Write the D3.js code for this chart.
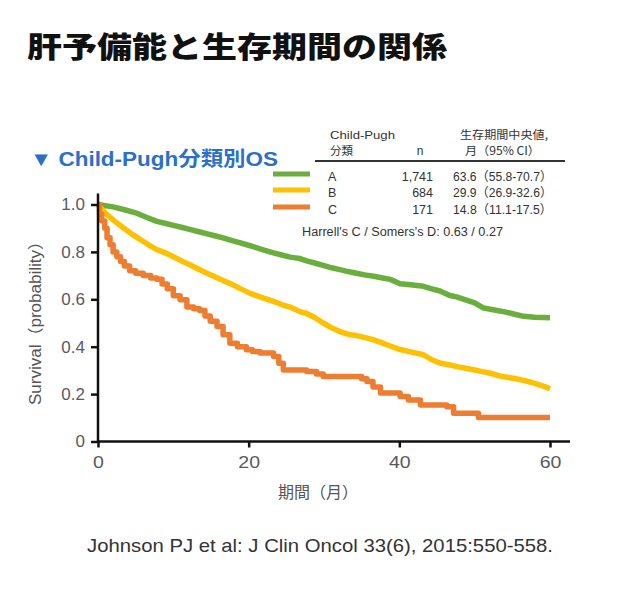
<!DOCTYPE html>
<html><head><meta charset="utf-8">
<script src="https://cdn.jsdelivr.net/npm/d3@7"></script>
<style>
body{margin:0;background:#fff;}
text{font-family:"Liberation Sans",Arial,"Noto Sans CJK JP",sans-serif;}
.jp{font-family:"Noto Sans CJK JP","Liberation Sans",sans-serif;}
</style></head>
<body>
<svg id="c" width="640" height="590"></svg>
<script>
// ---- data ----
const monthsA = [0,1,2,3.4,5,6.5,7.8,9,10,11.2,12.3,13.4,14.5,15.5,16.6,17.8,18.9,20.2,21.7,23.3,24.4,25.5,26.8,27.7,29,30,31,32.1,33.2,34.3,35.4,36.6,37.8,38.8,40.1,41.5,43.2,44.2,45.4,46.7,47.6,48.8,50,51.2,52.1,53,54,55.6,56.5,58,59,60];
const survA  = [1.0,0.995,0.99,0.979,0.965,0.945,0.929,0.92,0.912,0.903,0.894,0.885,0.876,0.868,0.859,0.848,0.838,0.826,0.811,0.796,0.787,0.778,0.772,0.762,0.751,0.742,0.733,0.725,0.717,0.71,0.703,0.697,0.69,0.684,0.666,0.661,0.655,0.645,0.635,0.616,0.61,0.598,0.585,0.563,0.558,0.553,0.547,0.535,0.528,0.524,0.523,0.522];
const monthsB = [0,0.5,1.15,2.2,3.4,4.5,5.6,6.7,7.8,9,10,11,12.2,13.3,14.4,15.5,16.6,17.8,18.9,20.2,21.5,23.3,24.4,25.5,26.8,27.7,28.8,29.9,31,32.1,33.5,34.3,35.5,36.6,37.8,38.8,40.1,41.5,43.2,44.3,45.4,46.7,47.6,48.8,50,51,52.1,53.4,54.5,55.5,56.5,57.5,58.5,59.3,60];
const survB  = [1.0,0.98,0.958,0.93,0.901,0.875,0.852,0.83,0.81,0.795,0.78,0.763,0.746,0.728,0.711,0.695,0.679,0.663,0.645,0.625,0.61,0.591,0.578,0.567,0.548,0.54,0.522,0.5,0.48,0.464,0.45,0.447,0.438,0.429,0.415,0.403,0.388,0.378,0.366,0.345,0.331,0.323,0.316,0.309,0.302,0.295,0.288,0.276,0.27,0.265,0.258,0.25,0.24,0.232,0.222];
const monthsC = [0,0.2,0.5,0.9,1.2,1.6,2,2.5,3,3.5,4.2,5,6,7,7.8,8.5,9.2,10,10.9,11.8,12.7,13.5,14.2,14.9,15.8,16.6,17.5,18.5,19.7,20.5,21.5,23.3,24,24.6,27.7,29,29.9,33.9,35,35.7,36.5,37.5,40.1,41.2,42.8,46.3,47.2,50.5,60];
const survC  = [1.0,0.96,0.93,0.9,0.86,0.83,0.8,0.78,0.76,0.74,0.72,0.71,0.7,0.69,0.685,0.665,0.645,0.615,0.598,0.567,0.56,0.553,0.53,0.507,0.485,0.45,0.415,0.4,0.387,0.38,0.373,0.359,0.33,0.302,0.295,0.285,0.274,0.274,0.265,0.253,0.23,0.205,0.19,0.175,0.154,0.147,0.119,0.101,0.101];

const groups  = ["A","B","C"];
const nCounts = ["1,741","684","171"];
const medians = ["63.6（55.8-70.7）","29.9（26.9-32.6）","14.8（11.1-17.5）"];
const colors  = ["#6aae3e","#ffc000","#ed7d31"];
const xTicks  = [0,20,40,60];
const yTicks  = [0,0.2,0.4,0.6,0.8,1.0];

const series = [
  {m:monthsA, s:survA, curve:d3.curveLinear},
  {m:monthsB, s:survB, curve:d3.curveLinear},
  {m:monthsC, s:survC, curve:d3.curveStepAfter}
];

// ---- chart ----
const svg = d3.select("#c");
const x = d3.scaleLinear().domain([0,60]).range([98,550]);
const y = d3.scaleLinear().domain([0,1]).range([441.5,204.5]);

function fit(sel,len){ return sel.attr("textLength",len).attr("lengthAdjust","spacingAndGlyphs"); }

// title
fit(svg.append("text").attr("class","jp").attr("x",27).attr("y",58)
  .attr("font-size",29).attr("font-weight",900).attr("fill","#111")
  .text("肝予備能と生存期間の関係"),420);

// subtitle
fit(svg.append("text").attr("x",30).attr("y",166).attr("font-size",20)
  .attr("font-weight","bold").attr("fill","#2a6fcb")
  .text("▼ Child-Pugh分類別OS"),248);

// curves
series.forEach((sr,i)=>{
  const line = d3.line().x(d=>x(d[0])).y(d=>y(d[1])).curve(sr.curve);
  const pts = sr.m.map((m,j)=>[m,sr.s[j]]);
  svg.append("path").attr("d",line(pts)).attr("fill","none")
    .attr("stroke",colors[i]).attr("stroke-width",5.5).attr("stroke-linejoin","round");
});

// axes
const gx = svg.append("g").attr("transform",`translate(0,${y(0)})`)
  .call(d3.axisBottom(x).tickValues(xTicks).tickSize(6).tickSizeOuter(0).tickFormat(d3.format("d")));
gx.select(".domain").attr("d",`M${x(0)},0H${x(60)+20}`);
const gy = svg.append("g").attr("transform",`translate(${x(0)},0)`)
  .call(d3.axisLeft(y).tickValues(yTicks).tickSize(7).tickSizeOuter(0)
    .tickFormat(d=>d===0?"0":d.toFixed(1)));
gy.select(".domain").attr("d",`M0,${y(0)}V${y(1)-11}`);
[gx,gy].forEach(g=>{
  g.select(".domain").attr("stroke","#111").attr("stroke-width",2.5);
  g.selectAll(".tick line").attr("stroke","#111").attr("stroke-width",2.5);
  g.selectAll(".tick text").attr("font-size",17).attr("fill","#5a5a5a")
    .attr("font-family","'Liberation Sans',Arial,sans-serif");
});
gx.selectAll(".tick text").attr("dy",null).attr("y",26.5).attr("transform","scale(1.15,1)");
gy.selectAll(".tick text").attr("x",-13);

// axis titles
svg.append("text").attr("class","jp").attr("x",318).attr("y",498).attr("text-anchor","middle")
  .attr("font-size",16).attr("fill","#555").text("期間（月）");
fit(svg.append("text").attr("transform","translate(41,319) rotate(-90)").attr("text-anchor","middle")
  .attr("font-size",16).attr("fill","#555").text("Survival（probability）"),172);

// legend table
const lg = svg.append("g").attr("fill","#333");
fit(lg.append("text").attr("x",330).attr("y",139).attr("font-size",11.5).text("Child-Pugh"),65);
lg.append("text").attr("class","jp").attr("x",330).attr("y",155).attr("font-size",11.5).text("分類");
lg.append("text").attr("x",420).attr("y",155).attr("font-size",12).attr("text-anchor","middle").text("n");
fit(lg.append("text").attr("class","jp").attr("x",460).attr("y",139).attr("font-size",11.5).text("生存期間中央値,"),88);
fit(lg.append("text").attr("class","jp").attr("x",465).attr("y",155).attr("font-size",11.5).text("月（95% CI）"),75);
svg.append("line").attr("x1",315).attr("x2",565).attr("y1",161).attr("y2",161).attr("stroke","#333").attr("stroke-width",2);

const rowY = [181,197,214];
groups.forEach((g,i)=>{
  svg.append("line").attr("x1",273).attr("x2",310).attr("y1",rowY[i]-7).attr("y2",rowY[i]-7)
    .attr("stroke",colors[i]).attr("stroke-width",5);
  lg.append("text").attr("x",328).attr("y",rowY[i]).attr("font-size",12.5).text(g);
  lg.append("text").attr("x",433).attr("y",rowY[i]).attr("font-size",12.5).attr("text-anchor","end").text(nCounts[i]);
  fit(lg.append("text").attr("x",453).attr("y",rowY[i]).attr("font-size",12.5).text(medians[i]),99);
});
fit(lg.append("text").attr("x",302).attr("y",236).attr("font-size",12).text("Harrell's C / Somers's D: 0.63 / 0.27"),201);

// source
fit(svg.append("text").attr("x",87).attr("y",552)
  .attr("font-size",19).attr("fill","#333").text("Johnson PJ et al: J Clin Oncol 33(6), 2015:550-558."),466);
</script>
</body></html>
